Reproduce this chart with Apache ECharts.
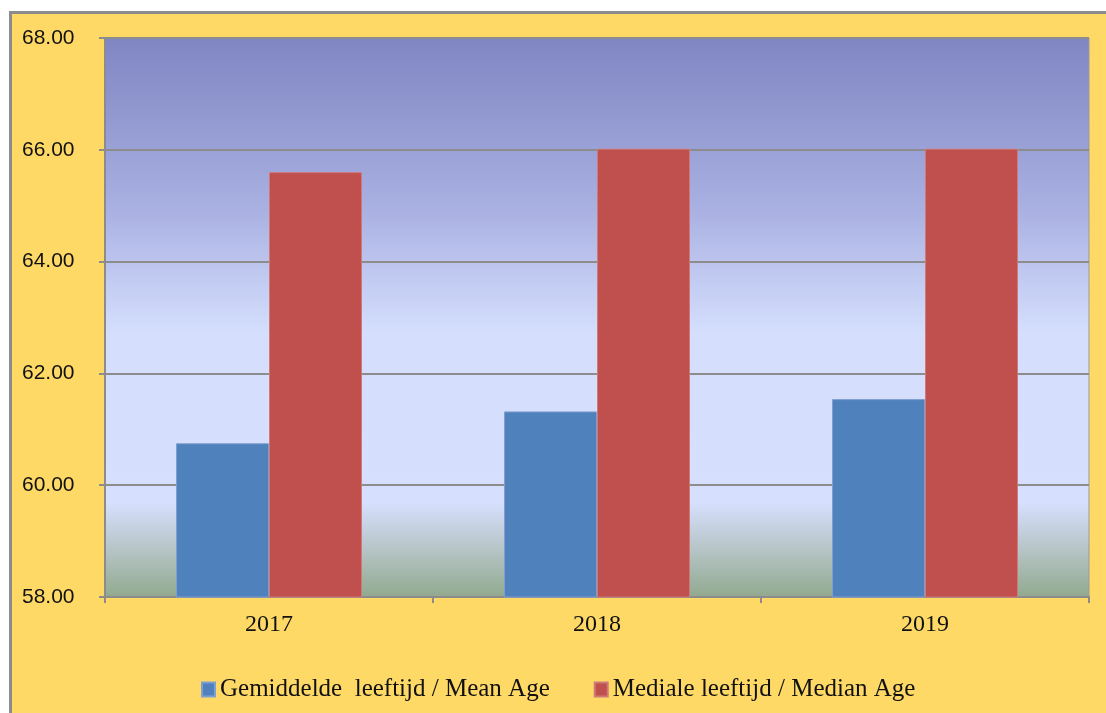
<!DOCTYPE html>
<html>
<head>
<meta charset="utf-8">
<script src="https://cdn.jsdelivr.net/npm/echarts@6/dist/echarts.min.js"></script>
<style>
  html, body { margin: 0; padding: 0; background: #fff; }
  .frame {
    position: absolute; left: 9px; top: 11px; width: 1110px; height: 720px;
    background: #FED966; border-left: 3px solid #8c8c8c; border-top: 3px solid #8c8c8c;
  }
  .chart { position: absolute; left: 0; top: 0; width: 1106px; height: 713px; }
</style>
</head>
<body>
<div class="frame"></div>
<div class="chart" id="chart"></div>
<script>
const years = ["2017", "2018", "2019"];
const meanAge = [60.75, 61.32, 61.54];
const medianAge = [65.6, 66.02, 66.02];
const seriesNames = ["Gemiddelde  leeftijd / Mean Age", "Mediale leeftijd / Median Age"];
const yTicks = { min: 58, max: 68, step: 2 };

let chart = echarts.init(document.getElementById("chart"));
let option = {
  backgroundColor: "transparent",
  animation: false,
  color: ["#4F81BD", "#C0504D"],
  grid: {
    left: 105,
    top: 38,
    width: 984,
    height: 559,
    show: true,
    borderColor: "#9a9a9a",
    borderWidth: 1,
    backgroundColor: new echarts.graphic.LinearGradient(0, 0, 0, 1, [
      { offset: 0, color: "#7F86C2" },
      { offset: 0.3, color: "#A8AFE1" },
      { offset: 0.53, color: "#D5DFFD" },
      { offset: 0.83, color: "#D6E0FE" },
      { offset: 0.9, color: "#BCC9D0" },
      { offset: 1, color: "#91A98E" },
    ]),
  },
  legend: {
    data: seriesNames,
    left: 196,
    top: 672,
    icon: "rect",
    itemWidth: 13,
    itemHeight: 14,
    itemGap: 44,
    textStyle: {
      fontFamily: "Liberation Serif",
      fontSize: 25,
      color: "#111",
    },
  },
  xAxis: {
    type: "category",
    data: years,
    axisLine: {
      show: true,
      lineStyle: { color: "#8c8c8c", width: 2 },
    },
    axisTick: {
      show: true,
      alignWithLabel: false,
      length: 6,
      lineStyle: { color: "#8c8c8c", width: 2 },
    },
    axisLabel: {
      margin: 16,
      fontFamily: "Liberation Serif",
      fontSize: 24,
      color: "#111",
    },
  },
  yAxis: {
    type: "value",
    min: yTicks.min,
    max: yTicks.max,
    interval: yTicks.step,
    axisLine: {
      show: true,
      lineStyle: { color: "#8c8c8c", width: 2 },
    },
    axisTick: {
      show: true,
      length: 6,
      lineStyle: { color: "#8c8c8c", width: 2 },
    },
    axisLabel: {
      align: "left",
      margin: 83,
      fontFamily: "Liberation Sans",
      fontSize: 21,
      color: "#111",
      formatter: (v) => v.toFixed(2),
    },
    splitLine: {
      show: true,
      lineStyle: { color: "#8c8c8c", width: 2 },
    },
  },
  series: [
    {
      name: seriesNames[0],
      type: "bar",
      data: meanAge,
      barWidth: 93,
      barGap: "0%",
      itemStyle: { borderColor: "#7f9fd0", borderWidth: 1 },
    },
    {
      name: seriesNames[1],
      type: "bar",
      data: medianAge,
      barWidth: 93,
      barGap: "0%",
      itemStyle: { borderColor: "#d07a78", borderWidth: 1 },
    },
  ],
};
chart.setOption(option);
</script>
</body>
</html>
